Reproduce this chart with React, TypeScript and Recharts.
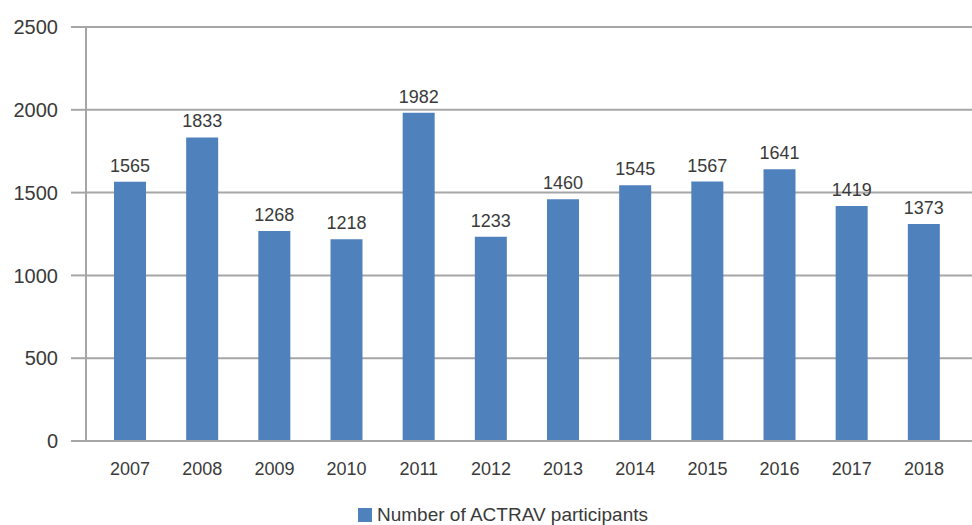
import { Bar, BarChart, CartesianGrid, LabelList, Legend, XAxis, YAxis } from "recharts";

const years = ["2007", "2008", "2009", "2010", "2011", "2012", "2013", "2014", "2015", "2016", "2017", "2018"];
// bar heights as drawn in the picture (2018 is drawn lower than its label)
const participants = [1565, 1833, 1268, 1218, 1982, 1233, 1460, 1545, 1567, 1641, 1419, 1310];
const labels = ["1565", "1833", "1268", "1218", "1982", "1233", "1460", "1545", "1567", "1641", "1419", "1373"];
const yTicks = [0, 500, 1000, 1500, 2000, 2500];

const FONT = "'Liberation Sans', Arial, sans-serif";
const TEXT = "#3a3a3a";
const GRID = "#A6A6A6";
const BLUE = "#4F81BD";

const chartData = years.map((year, i) => ({ year, value: participants[i], label: labels[i] }));

const renderLabel = (props: any) => {
  const { x, y, width, index } = props;
  return (
    <text
      x={x + width / 2}
      y={y - 10}
      textAnchor="middle"
      fill={TEXT}
      fontSize={18}
      fontFamily={FONT}
    >
      {labels[index]}
    </text>
  );
};

const renderLegend = () => (
  <div
    style={{
      height: 34,
      paddingTop: 14,
      paddingLeft: 34,
      boxSizing: "border-box",
      display: "flex",
      justifyContent: "center",
      alignItems: "center",
      fontFamily: FONT,
      fontSize: 19,
      color: TEXT,
    }}
  >
    <span style={{ width: 14, height: 14, background: BLUE, marginRight: 5, display: "inline-block" }} />
    <span style={{ lineHeight: "20px" }}>Number of ACTRAV participants</span>
  </div>
);

export default function App() {
  return (
    <div style={{ position: "absolute", left: 0, top: 0, width: 972, height: 525, background: "#fff" }}>
      <BarChart
        width={972}
        height={525}
        data={chartData}
        margin={{ top: 27, right: 0, left: 0, bottom: 0 }}
        barSize={32}
      >
        <CartesianGrid vertical={false} stroke={GRID} strokeWidth={2} />
        <XAxis
          dataKey="year"
          padding={{ left: 8, right: 12 }}
          axisLine={{ stroke: GRID, strokeWidth: 2 }}
          tickLine={false}
          tickMargin={15}
          height={50}
          interval={0}
          tick={{ fontSize: 18, fill: TEXT, fontFamily: FONT }}
        />
        <YAxis
          domain={[0, 2500]}
          ticks={yTicks}
          width={86}
          axisLine={{ stroke: GRID, strokeWidth: 2 }}
          tickLine={{ stroke: GRID, strokeWidth: 2 }}
          tickSize={15}
          tickMargin={13}
          tick={{ fontSize: 20, fill: TEXT, fontFamily: FONT }}
        />
        <Legend verticalAlign="bottom" height={34} content={renderLegend} />
        <Bar dataKey="value" name="Number of ACTRAV participants" fill={BLUE} isAnimationActive={false}>
          <LabelList dataKey="label" content={renderLabel} />
        </Bar>
      </BarChart>
    </div>
  );
}
